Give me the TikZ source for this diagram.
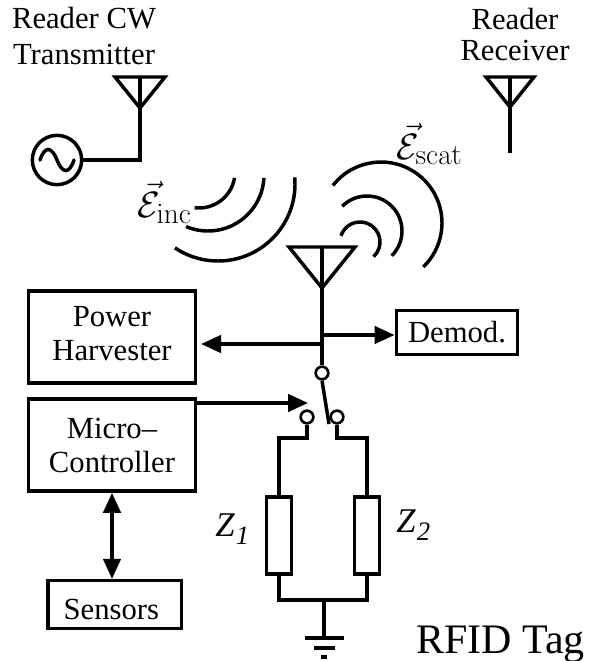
\documentclass[tikz,border=0pt]{standalone}
\usepackage{fix-cm}
\usepackage[no-math]{fontspec}
\setmainfont{Liberation Serif}
\DeclareMathSizes{27.5}{27.5}{22}{17}
\usetikzlibrary{arrows.meta,positioning}
\newcommand{\nudge}[2]{\raisebox{#1}[\height][\depth]{#2}}
\tikzset{
      wire/.style={
        line width=2.6pt,
        line cap=butt,
        line join=miter
      },
      feed/.style={
        wire,
        -{Triangle[length=15pt,width=13pt]}
      },
      feedboth/.style={
        wire,
        {Triangle[length=15pt,width=13pt]}-{Triangle[length=15pt,width=13pt]}
      },
      myblock/.style 2 args={
        draw,
        line width=2.6pt,
        align=center,
        font=\fontsize{23}{25.5}\selectfont,
        minimum width=#1,
        minimum height=#2,
        inner sep=0pt
      },
      myload/.style={
        draw,
        fill=white,
        line width=2.6pt,
        minimum width=19pt,
        minimum height=58pt,
        inner sep=0pt
      },
      mycontact/.style={
        circle,
        draw,
        fill=white,
        line width=2pt,
        minimum size=9.5pt,
        inner sep=0pt
      },
      mytitle/.style={
        align=center,
        inner sep=0pt,
        font=\fontsize{23}{25.5}\selectfont
      },
      myfield/.style={
        anchor=base west,
        inner sep=0pt,
        font=\fontsize{27.5}{30}\selectfont
      },
      myimp/.style={
        anchor=base west,
        inner sep=0pt,
        font=\fontsize{26}{28}\selectfont\itshape
      }
    }

\begin{document}
\begin{tikzpicture}[x=0.75pt,y=-0.75pt]
          \useasboundingbox (0,0) rectangle (589,661);

          % reader side
          \node[mytitle,anchor=base]
            (titletx) at (84,64)
            {Reader CW\\[1pt]Transmitter};
          \node[mytitle,anchor=base]
            (titlerx) at (515,60)
            {Reader\\[-2.5pt]Receiver};
          \node[circle,draw,line width=2.6pt,minimum size=37pt,inner sep=0pt]
            (source) at (57,160)
            {};
          \draw[wire,line cap=round] (40,160) .. controls (45,145) and (52,147) .. (57,160)
            .. controls (62,173) and (69,175) .. (74,160);

          \foreach \name/\cx/\ytop/\hw/\yapex in {tx/140/77/25/108,rx/510/77/24/107,tag/322/247/33/288}{
            \coordinate (\name top) at (\cx,\ytop);
            \coordinate (\name apex) at (\cx,\yapex);
            \draw[wire] (\cx-\hw,\ytop) -- (\cx+\hw,\ytop) -- (\cx,\yapex) -- cycle;
            \draw[wire] (\name top) -- (\name apex);
          }

          \coordinate (txbend) at (140,160);
          \coordinate (rxend) at (510,153);
          \draw[wire] (txapex) -- (txbend) -- (source.east);
          \draw[wire] (rxapex) -- (rxend);

          % waves
          \draw[wire] (218,184) ++(-5:77) arc (-5:124:77);
          \draw[wire] (208,175) ++(3:56) arc (3:113:56);
          \draw[wire] (199,172) ++(9.5:36) arc (9.5:97:36);
          \draw[wire] (381,223) ++(-142:61) arc (-142:46:61);
          \draw[wire] (367,231) ++(-135:35) arc (-135:45:35);
          \draw[wire] (360,242) ++(-162:20) arc (-162:47:20);
          \node[myfield]
            (fieldinc) at (137,217)
            {$\vec{\mathcal{E}}_{\mathrm{inc}}$};
          \node[myfield]
            (fieldscat) at (396,159)
            {$\vec{\mathcal{E}}_{\mathrm{scat}}$};

          % tag blocks
          \node[myblock={125pt}{69pt}]
            (harvester) at (112,337)
            {\nudge{2.2pt}{Power}\\\nudge{2.2pt}{Harvester}};
          \node[myblock={125pt}{69pt},below=9.5pt of harvester]
            (micro) 
            {Micro--\\Controller};
          \node[myblock={100pt}{36pt},below=64.5pt of micro,xshift=2pt]
            (sensors)
            {\nudge{-3.5pt}{Sensors\kern5pt}};
          \node[myblock={91pt}{33pt}]
            (demod) at (457,332.5)
            {Demod.};

          % switch and loads
          \node[mycontact] (pole) at (322,373) {};
          \node[mycontact] (contacti) at (307,417) {};
          \node[mycontact] (contactii) at (337,417) {};
          \node[myload] (zone) at (279,535.5) {};
          \node[myload] (ztwo) at (367,535.5) {};
          \node[myimp]
            (labelzone) at (215,536)
            {Z\kern1pt\raisebox{-6.5pt}{\fontsize{20}{20}\selectfont 1}};
          \node[myimp]
            (labelztwo) at (396,532)
            {Z\kern1pt\raisebox{-6.5pt}{\fontsize{20}{20}\selectfont 2}};
          \node[mytitle,anchor=base west,font=\fontsize{31.5}{33}\selectfont]
            (titletag) at (416,653)
            {RFID Tag};

          \coordinate (harvjoint) at (322,344);
          \coordinate (demjoint) at (322,335);
          \coordinate (ctrltip) at (308,403);
          \coordinate (bladeend) at (329,424);
          \coordinate (bendi) at (307,438);
          \coordinate (bendii) at (337,438);
          \coordinate (joint) at (324,600);
          \coordinate (gnd) at (324,638);

          \draw[wire] (tagapex) -- (pole.north);
          \draw[feed,shorten >=3pt] (harvjoint) -- (harvjoint -| harvester.east);
          \draw[feed] (demjoint) -- (demjoint -| demod.west);
          \draw[feed] (ctrltip -| micro.east) -- (ctrltip);
          \draw[feedboth] (micro.south) -- (micro.south |- sensors.north);
          \draw[wire] (pole.south) -- (bladeend);
          \draw[wire] (contacti.south) -- (bendi) -| (zone.north);
          \draw[wire] (contactii.south) -- (bendii) -| (ztwo.north);
          \draw[wire] (zone.south) |- (joint) -| (ztwo.south);
          \draw[wire] (joint) -- (gnd);
          \draw[wire] (305,638) -- (344,638) (314,648) -- (335,648) (321,657) -- (327,657);
        \end{tikzpicture}
\end{document}
